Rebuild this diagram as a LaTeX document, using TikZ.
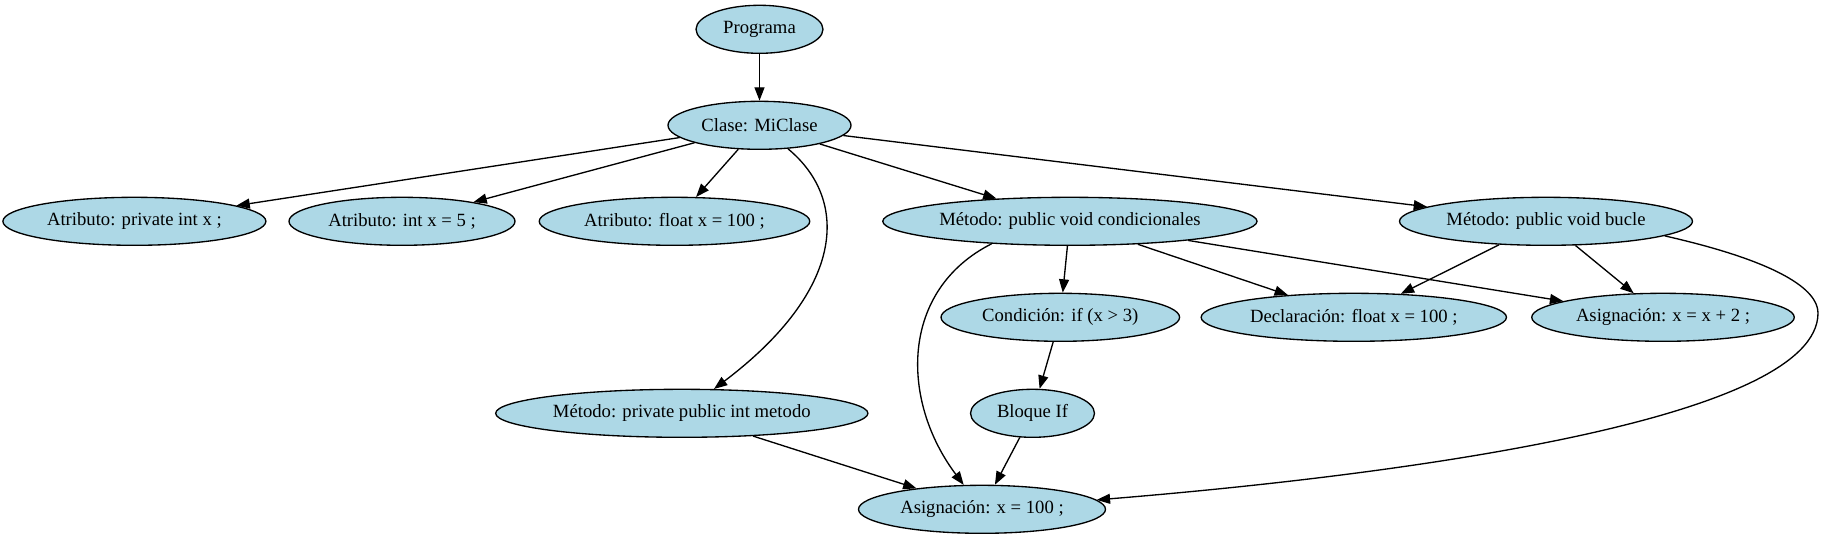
\documentclass[tikz,border=0pt]{standalone}
\usepackage{fontspec}
\setmainfont{Liberation Serif}
\usetikzlibrary{shapes.geometric,arrows.meta}
\definecolor{lb}{HTML}{ADD8E6}
\begin{document}
\begin{tikzpicture}[x=0.75pt,y=-0.75pt,
  nd/.style={ellipse,draw=black,fill=lb,line width=1pt,inner sep=0pt,
    minimum height=36pt,font=\fontsize{14pt}{16pt}\selectfont},
  ar/.style={-{Triangle[length=10pt,width=7.5pt]},line width=1pt}]
\useasboundingbox (0,0) rectangle (1824,539);
% rank 0
\node[nd,minimum width=95.25pt] (prog) at (759.5,29.3) {Programa};
% rank 1
\node[nd,minimum width=137.25pt] (clase) at (759.5,125.3) {Clase: MiClase};
% rank 2
\node[nd,minimum width=197.25pt] (a1) at (134.4,221.3) {Atributo: private int x ;};
\node[nd,minimum width=169.5pt] (a2) at (402,221.3) {Atributo: int x = 5 ;};
\node[nd,minimum width=202.9pt] (a3) at (674.5,221.3) {Atributo: float x = 100 ;};
\node[nd,minimum width=280.7pt] (cond) at (1069.9,221.3) {Método: public void condicionales};
\node[nd,minimum width=219.75pt] (bucle) at (1546,221.3) {Método: public void bucle};
% rank 3
\node[nd,minimum width=178.9pt] (cif) at (1060.3,317.3) {Condición: if (x > 3)};
\node[nd,minimum width=229pt] (decl) at (1353.8,317.3) {Declaración: float x = 100 ;};
\node[nd,minimum width=196.9pt] (asig2) at (1663,317.3) {Asignación: x = x + 2 ;};
% rank 4
\node[nd,minimum width=279.2pt] (met) at (681.8,413.3) {Método: private public int metodo};
\node[nd,minimum width=93pt] (bloque) at (1032.5,413.3) {Bloque If};
% rank 5
\node[nd,minimum width=185.25pt] (asig) at (982,509.3) {Asignación: x = 100 ;};
% edges
\draw[ar] (prog) -- (clase);
\draw[ar] (clase) -- (a1);
\draw[ar] (clase) -- (a2);
\draw[ar] (clase) -- (a3);
\draw[ar] (clase) .. controls (850,200) and (845,290) .. (met);
\draw[ar] (clase) -- (cond);
\draw[ar] (clase) -- (bucle);
\draw[ar] (cond.196) .. controls (900,290) and (900,400) .. (asig);
\draw[ar] (cond) -- (cif);
\draw[ar] (cond) -- (decl);
\draw[ar] (cond) -- (asig2);
\draw[ar] (bucle) -- (decl);
\draw[ar] (bucle) -- (asig2);
\draw[ar] (bucle.-7) .. controls (1780,262) and (1818,290) .. (1818,313)
  .. controls (1818,420) and (1400,475) .. (asig);
\draw[ar] (cif) -- (bloque);
\draw[ar] (bloque) -- (asig);
\draw[ar] (met) -- (asig);
\end{tikzpicture}
\end{document}
